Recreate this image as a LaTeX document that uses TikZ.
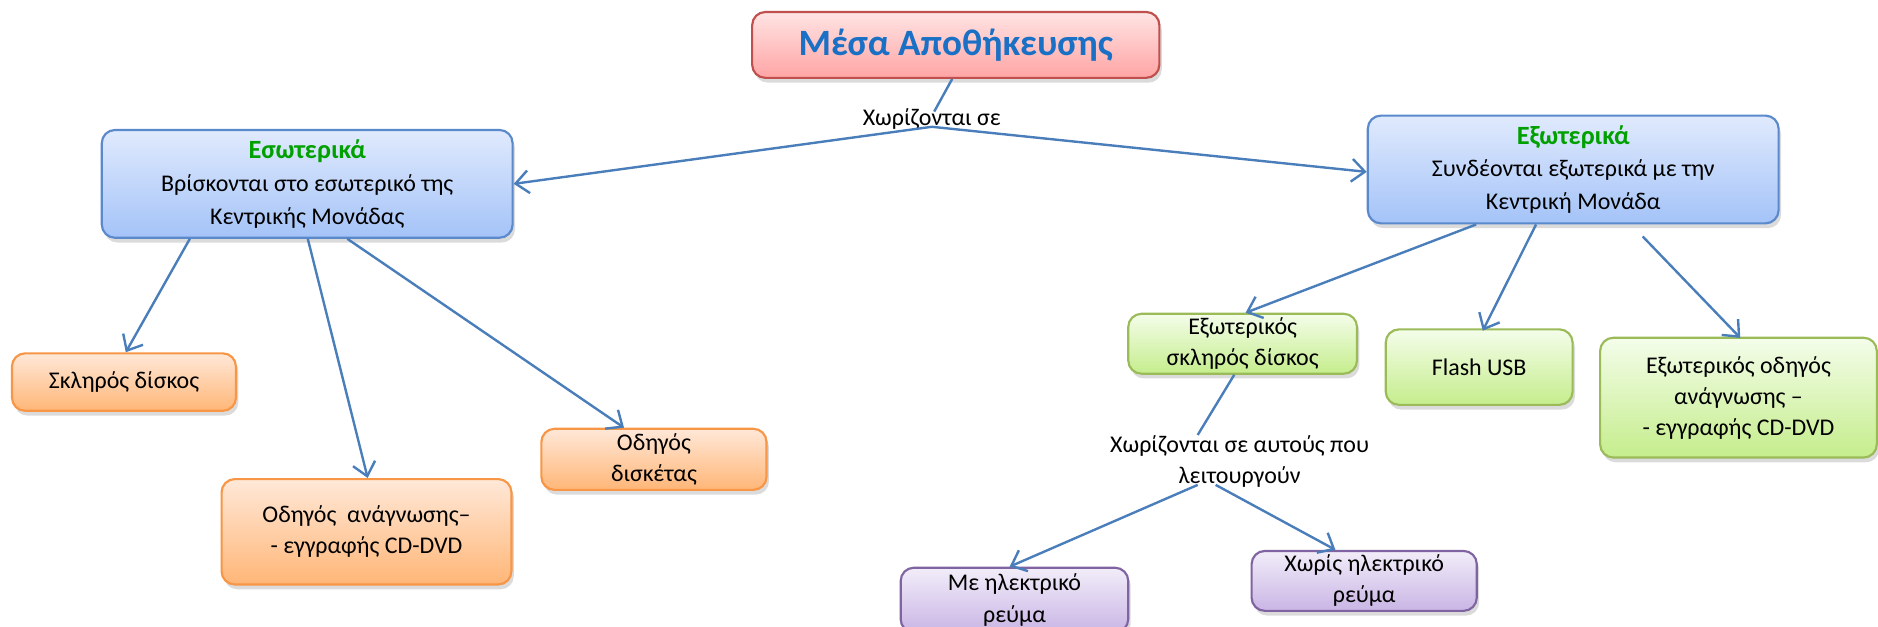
\documentclass[tikz,border=0pt]{standalone}
\usepackage{fontspec}
\setmainfont{Carlito}
\usetikzlibrary{shadows,arrows.meta,calc}
\definecolor{arrowc}{HTML}{4A7EBB}
\definecolor{titletxt}{HTML}{1A70C4}
\definecolor{headgreen}{HTML}{00A000}
\definecolor{bluetop}{HTML}{E0EAFD}
\definecolor{bluebot}{HTML}{A4C3F8}
\definecolor{blueline}{HTML}{5A89CC}
\definecolor{redtop}{HTML}{FFE4E4}
\definecolor{redbot}{HTML}{FFA4A4}
\definecolor{redline}{HTML}{C0504D}
\definecolor{orangetop}{HTML}{FFE8D8}
\definecolor{orangebot}{HTML}{FFB677}
\definecolor{orangeline}{HTML}{F79646}
\definecolor{greentop}{HTML}{F4FDEA}
\definecolor{greenbot}{HTML}{C5ED8C}
\definecolor{greenline}{HTML}{9BBB59}
\definecolor{purpletop}{HTML}{F2EDF9}
\definecolor{purplebot}{HTML}{C9B5E5}
\definecolor{purpleline}{HTML}{8064A2}
\tikzset{
  x=1pt, y=-1pt,
  box/.style={rounded corners=11pt, line width=1.8pt, align=center, inner sep=2pt,
    font=\fontsize{20}{26}\selectfont,
    drop shadow={shadow xshift=2pt, shadow yshift=-4pt, opacity=0.35, fill=black!40}},
  redbox/.style={box, draw=redline, top color=redtop, bottom color=redbot},
  bluebox/.style={box, draw=blueline, top color=bluetop, bottom color=bluebot, font=\fontsize{20}{27.5}\selectfont},
  orangebox/.style={box, draw=orangeline, top color=orangetop, bottom color=orangebot},
  greenbox/.style={box, draw=greenline, top color=greentop, bottom color=greenbot},
  purplebox/.style={box, draw=purpleline, top color=purpletop, bottom color=purplebot},
  lbl/.style={align=center, inner sep=0pt, font=\fontsize{20}{26}\selectfont},
  conn/.style={draw=arrowc, line width=2pt},
  arr/.style={conn, -{Straight Barb[length=11pt,width=19pt,line width=2pt]}},
}
\begin{document}
\begin{tikzpicture}
\useasboundingbox (0,0) rectangle (1568,523);
% nodes
\node[redbox, minimum width=340pt, minimum height=55pt, font=\fontsize{31}{34}\selectfont\bfseries, text=titletxt] (title) at (798,37.5) {Μέσα Αποθήκευσης};
\node[lbl] (t1) at (778,99) {Χωρίζονται σε};
\node[bluebox, minimum width=343pt, minimum height=90pt] (esw) at (256.5,153.5)
  {{\fontsize{22}{26}\selectfont\bfseries\color{headgreen}Εσωτερικά}\\Βρίσκονται στο εσωτερικό της\\Κεντρικής Μονάδας};
\node[bluebox, minimum width=343pt, minimum height=90pt] (exw) at (1313.5,141.5)
  {{\fontsize{22}{26}\selectfont\bfseries\color{headgreen}Εξωτερικά}\\Συνδέονται εξωτερικά με την\\Κεντρική Μονάδα};
\node[orangebox, minimum width=187pt, minimum height=48pt] (sk) at (103.5,319) {Σκληρός δίσκος};
\node[orangebox, minimum width=242pt, minimum height=88pt] (odA) at (306,444) {Οδηγός\ \ ανάγνωσης–\\- εγγραφής CD-DVD};
\node[orangebox, minimum width=188pt, minimum height=51pt, inner sep=0pt] (odD) at (546,383.5) {Οδηγός\\δισκέτας};
\node[greenbox, minimum width=191pt, minimum height=50pt, inner sep=0pt] (exS) at (1037.5,287) {Εξωτερικός\\σκληρός δίσκος};
\node[greenbox, minimum width=156pt, minimum height=63pt] (usb) at (1235,306.5) {Flash USB};
\node[greenbox, minimum width=231pt, minimum height=100pt] (exO) at (1451.5,332) {Εξωτερικός οδηγός\\ανάγνωσης –\\- εγγραφής CD-DVD};
\node[lbl] (t2) at (1035,385) {Χωρίζονται σε αυτούς που\\λειτουργούν};
\node[purplebox, minimum width=190pt, minimum height=54pt, inner sep=0pt] (mE) at (847,501) {Με ηλεκτρικό\\ρεύμα};
\node[purplebox, minimum width=188pt, minimum height=50pt, inner sep=0pt] (xE) at (1139,485) {Χωρίς ηλεκτρικό\\ρεύμα};
% connectors
\draw[conn] ([xshift=-3pt]title.south) -- ([xshift=2pt,yshift=-3pt]t1.north);
\draw[arr] ([yshift=2pt]t1.south) -- (esw.east);
\draw[arr] ([yshift=2pt]t1.south) -- ([yshift=-2pt]exw.west);
\draw[arr] ([xshift=-98pt]esw.south) -- ([xshift=1.5pt]sk.north);
\draw[arr] ([xshift=0.5pt]esw.south) -- ([xshift=1pt]odA.north);
\draw[arr] ([xshift=33.5pt]esw.south) -- ([xshift=-25pt]odD.north);
\draw[arr] ([xshift=-81pt]exw.south) -- ([xshift=2.5pt]exS.north);
\draw[arr] ([xshift=-31pt]exw.south) -- ([xshift=3pt,yshift=-2pt]usb.north);
\draw[arr] ([xshift=58pt,yshift=-10pt]exw.south) -- ([xshift=1.5pt,yshift=-1pt]exO.north);
\draw[conn] ([xshift=-7pt]exS.south) -- ([xshift=-35pt]t2.north);
\draw[arr] ([xshift=-35pt,yshift=2pt]t2.south) -- ([xshift=-4pt]mE.north);
\draw[arr] ([xshift=-20pt,yshift=2pt]t2.south) -- ([xshift=-24pt]xE.north);
\end{tikzpicture}
\end{document}
